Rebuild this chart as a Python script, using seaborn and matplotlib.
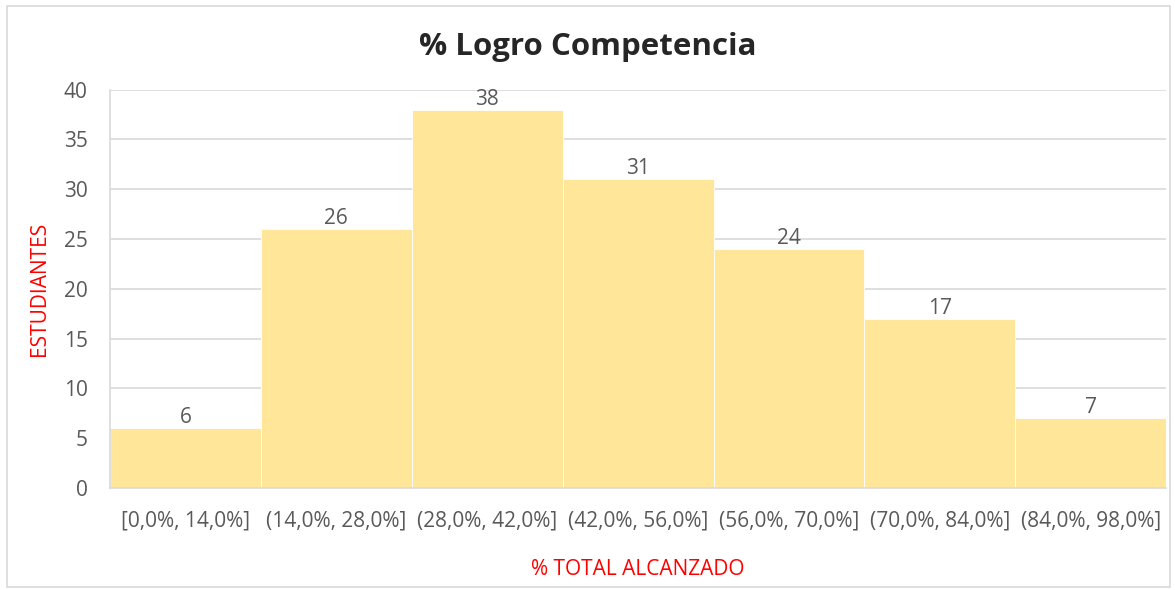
import matplotlib
matplotlib.use("Agg")
import matplotlib.pyplot as plt
import seaborn as sns
import pandas as pd
from matplotlib.patches import Rectangle

# datos
rangos = ["[0,0%, 14,0%]", "(14,0%, 28,0%]", "(28,0%, 42,0%]", "(42,0%, 56,0%]",
          "(56,0%, 70,0%]", "(70,0%, 84,0%]", "(84,0%, 98,0%]"]
estudiantes = [6, 26, 38, 31, 24, 17, 7]

df = pd.DataFrame({"rango": rangos, "estudiantes": estudiantes})

sns.set_theme(style="white")
plt.rcParams["font.family"] = ["Open Sans", "DejaVu Sans"]

fig = plt.figure(figsize=(11.75, 5.9), dpi=100)
ax = fig.add_axes([0.0936, 0.173, 0.899, 0.675])

sns.barplot(data=df, x="rango", y="estudiantes", color="#FFE699", saturation=1,
            width=1.0, edgecolor="white", linewidth=0.6, ax=ax, zorder=2)

for c in ax.containers:
    ax.bar_label(c, labels=[str(v) for v in estudiantes], fontsize=15,
                 color="#595959", padding=0)

ax.set_ylim(0, 40)
ax.set_yticks(range(0, 41, 5))
ax.set_xlim(-0.5, len(rangos) - 0.5)
ax.yaxis.grid(True, color="#D9D9D9", linewidth=1.2, zorder=0)
ax.set_axisbelow(True)
for s in ["top", "right"]:
    ax.spines[s].set_visible(False)
for s in ["left", "bottom"]:
    ax.spines[s].set_color("#D9D9D9")
    ax.spines[s].set_linewidth(1.2)

ax.tick_params(axis="y", labelsize=15, colors="#595959", length=0, pad=16)
ax.tick_params(axis="x", labelsize=15, colors="#595959", length=0, pad=16)

ax.set_xlabel("% TOTAL ALCANZADO", color="red", fontsize=15, labelpad=20)
ax.set_ylabel("ESTUDIANTES", color="red", fontsize=15, labelpad=10)

fig.suptitle("% Logro Competencia", fontsize=22.5, fontweight="bold", y=0.945)

fig.patches.append(Rectangle((0.006, 0.005), 0.99, 0.985, transform=fig.transFigure,
                             fill=False, edgecolor="#D9D9D9", linewidth=1.2))

fig.savefig("out.png", dpi=100)
